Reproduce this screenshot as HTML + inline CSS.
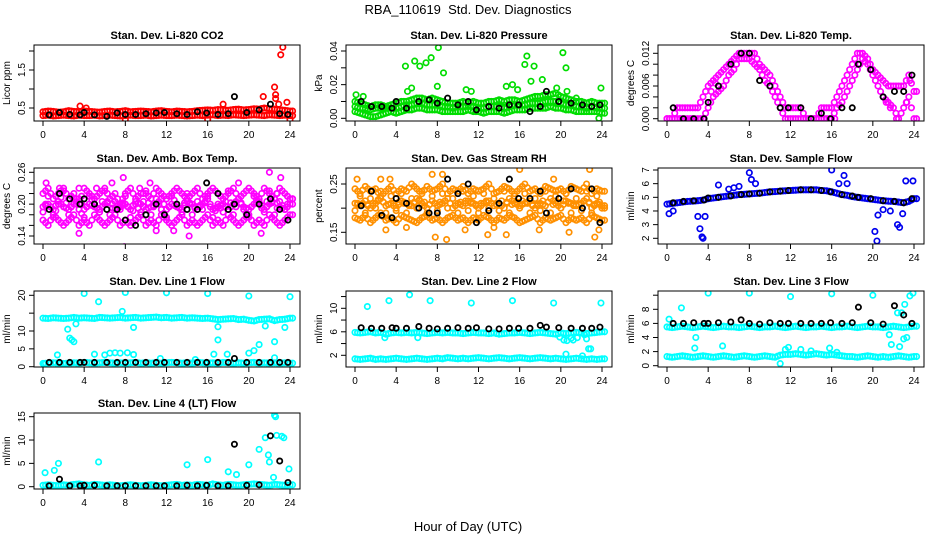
<!DOCTYPE html>
<html><head><meta charset="utf-8"><style>
html,body{margin:0;padding:0;background:#fff}
svg{display:block}
text{font-family:"Liberation Sans",sans-serif}
</style></head><body>
<svg id="chart" width="936" height="540" viewBox="0 0 936 540" xmlns="http://www.w3.org/2000/svg">
<rect width="936" height="540" fill="#fff"/>
<text x="468" y="14" text-anchor="middle" font-size="13" xml:space="preserve">RBA_110619&#160; Std. Dev. Diagnostics</text>
<text x="468" y="531" text-anchor="middle" font-size="13">Hour of Day (UTC)</text>
<defs id="defs"></defs>
</svg>
<script>
// shared categories
const xTicks = [0,4,8,12,16,20,24];
const blackHours = [0.6,1.6,2.6,3.6,4.0,5.0,6.2,7.2,8.0,9.0,10.0,11.0,11.8,13.0,14.0,15.0,15.9,17.0,18.0,18.6,19.8,21.0,22.1,23.0,23.8];

// CO2
const co2BandA = [0.40,0.42,0.41,0.39,0.40,0.43,0.41,0.40,0.42,0.41,0.40,0.39,0.41,0.42,0.40,0.41,0.43,0.40,0.41,0.42,0.41,0.40,0.42,0.43,0.41,0.40,0.42,0.41,0.40,0.41,0.43,0.44,0.45,0.44,0.46,0.45,0.44,0.46,0.47,0.45,0.46,0.48,0.47,0.50,0.48,0.47,0.45,0.44,0.42];
const co2BandB = [0.30,0.31,0.29,0.30,0.31,0.30,0.29,0.31,0.30,0.30,0.31,0.29,0.30,0.31,0.30,0.29,0.30,0.31,0.30,0.30,0.31,0.29,0.30,0.31,0.30,0.30,0.31,0.30,0.29,0.30,0.31,0.30,0.31,0.32,0.30,0.31,0.30,0.32,0.31,0.30,0.31,0.32,0.31,0.30,0.32,0.31,0.30,0.31,0.30];
const co2OutX = [3.6,4.2,17.5,21.4,22.5,22.6,22.6,23.1,23.3,23.7,22.9,16,8,24];
const co2OutY = [0.55,0.5,0.6,0.8,1.05,0.85,0.75,1.9,2.1,0.65,0.6,0.2,0.2,0.2];
const co2Black = [0.32,0.38,0.33,0.32,0.38,0.32,0.28,0.37,0.33,0.33,0.35,0.37,0.38,0.35,0.33,0.40,0.37,0.33,0.35,0.80,0.38,0.45,0.60,0.35,0.33];

// Pressure
const prsBandA = [0.010,0.009,0.008,0.007,0.008,0.008,0.007,0.008,0.009,0.010,0.010,0.011,0.012,0.012,0.011,0.012,0.011,0.010,0.009,0.009,0.009,0.010,0.009,0.010,0.009,0.009,0.010,0.010,0.011,0.010,0.011,0.011,0.010,0.011,0.012,0.013,0.013,0.014,0.014,0.015,0.013,0.012,0.011,0.010,0.010,0.009,0.010,0.009,0.009];
const prsBandB = [0.004,0.003,0.002,0.001,0.001,0.002,0.003,0.004,0.003,0.004,0.005,0.005,0.006,0.006,0.005,0.005,0.005,0.004,0.004,0.004,0.004,0.004,0.005,0.004,0.004,0.003,0.004,0.004,0.004,0.003,0.004,0.005,0.005,0.005,0.006,0.006,0.006,0.006,0.007,0.006,0.006,0.005,0.005,0.004,0.004,0.004,0.004,0.004,0.003];
const prsBandC = [0.007,0.006,0.006,0.005,0.006,0.006,0.006,0.006,0.006,0.007,0.008,0.008,0.009,0.009,0.008,0.008,0.008,0.007,0.007,0.006,0.007,0.007,0.007,0.007,0.006,0.006,0.007,0.007,0.007,0.006,0.007,0.008,0.008,0.008,0.009,0.009,0.009,0.010,0.010,0.010,0.009,0.008,0.008,0.007,0.007,0.006,0.007,0.006,0.006];
const prsOutX = [0.1,0.8,4.9,5.1,5.5,5.8,6.3,6.9,7.4,8.1,8.0,8.6,10.8,11.3,14.7,15.3,15.8,16.5,16.7,17.4,17.1,18.2,19.6,20.2,20.5,20.6,21.5,23.9,23.7];
const prsOutY = [0.014,0.013,0.031,0.016,0.018,0.034,0.031,0.033,0.036,0.042,0.019,0.027,0.017,0.016,0.019,0.020,0.017,0.032,0.037,0.031,0.022,0.023,0.018,0.039,0.030,0.016,0.012,0.018,0.000];
const prsBlack = [0.010,0.007,0.007,0.006,0.010,0.006,0.010,0.011,0.009,0.012,0.008,0.010,0.005,0.007,0.006,0.008,0.008,0.004,0.007,0.016,0.010,0.009,0.008,0.007,0.008];

// Li-820 Temp
const tmpBandA = [0,0,0.002,0.002,0.002,0.002,0.002,0.004,0.006,0.007,0.008,0.009,0.010,0.011,0.012,0.012,0.012,0.012,0.010,0.009,0.008,0.006,0.004,0.002,0.002,0.002,0.002,0,0,0,0.002,0.002,0.002,0.004,0.006,0.008,0.010,0.012,0.012,0.011,0.009,0.008,0.007,0.006,0.006,0.006,0.006,0.008,0.005];
const tmpBandB = [0,0,0,0,0,0,0,0,0.002,0.004,0.005,0.006,0.008,0.009,0.011,0.011,0.011,0.010,0.009,0.007,0.006,0.004,0.002,0,0,0,0,0,0,0,0,0,0,0.002,0.003,0.005,0.007,0.009,0.011,0.010,0.008,0.006,0.004,0.003,0.002,0,0.002,0.004,0];
const tmpOutX = [1.3,2.4,3.5,4.3,4.7,15.9,16.3,21.3,21.7,22.3,23.3,23.6];
const tmpOutY = [0,0,0,0.005,0.0065,0,0,0.003,0.002,0,0.003,0.007];
const tmpBlack = [0.002,0,0,0,0.003,0.006,0.010,0.012,0.012,0.007,0.006,0.002,0.002,0.002,0,0.001,0,0.002,0.002,0.010,0.009,0.004,0.005,0.005,0.008];

// Amb Box Temp
const ambBandA = [0.22,0.23,0.21,0.22,0.23,0.21,0.22,0.20,0.23,0.22,0.21,0.22,0.23,0.21,0.22,0.20,0.22,0.23,0.21,0.22,0.22,0.21,0.23,0.22,0.21,0.22,0.23,0.22,0.21,0.22,0.23,0.21,0.22,0.23,0.22,0.21,0.22,0.23,0.21,0.22,0.23,0.22,0.21,0.23,0.22,0.21,0.23,0.22,0.21];
const ambBandB = [0.17,0.16,0.18,0.17,0.16,0.17,0.18,0.16,0.17,0.16,0.18,0.17,0.16,0.17,0.18,0.16,0.17,0.16,0.17,0.18,0.16,0.17,0.16,0.18,0.17,0.16,0.17,0.18,0.16,0.17,0.16,0.17,0.18,0.16,0.17,0.16,0.18,0.17,0.16,0.17,0.18,0.16,0.17,0.16,0.18,0.17,0.16,0.17,0.18];
const ambBandC = [0.195,0.20,0.19,0.205,0.195,0.19,0.20,0.21,0.19,0.20,0.195,0.19,0.20,0.21,0.19,0.195,0.20,0.19,0.205,0.20,0.19,0.195,0.20,0.21,0.19,0.20,0.195,0.19,0.205,0.20,0.19,0.20,0.21,0.19,0.195,0.20,0.19,0.20,0.21,0.195,0.19,0.20,0.205,0.19,0.20,0.21,0.195,0.19,0.20];
const ambBandD = [0.185,0.215,0.175,0.20,0.225,0.18,0.21,0.19,0.175,0.215,0.20,0.185,0.225,0.18,0.205,0.19,0.215,0.175,0.20,0.185,0.225,0.18,0.21,0.19,0.175,0.215,0.20,0.185,0.22,0.18,0.205,0.19,0.215,0.175,0.20,0.185,0.225,0.18,0.21,0.19,0.175,0.215,0.20,0.185,0.225,0.18,0.205,0.19,0.21];
const ambOutX = [0.3,1.6,3.5,5.2,6.7,7.8,9.4,10.4,12.7,3.5,7.9,14.2,19,22,23.1,22.7,21.2,11];
const ambOutY = [0.24,0.23,0.23,0.23,0.24,0.25,0.23,0.24,0.15,0.145,0.12,0.14,0.24,0.26,0.25,0.22,0.145,0.15];
const ambBlack = [0.19,0.22,0.21,0.20,0.21,0.20,0.19,0.19,0.17,0.16,0.18,0.20,0.18,0.20,0.19,0.19,0.24,0.22,0.19,0.20,0.18,0.20,0.21,0.19,0.17];

// Gas stream RH
const rhBandA = [0.24,0.23,0.245,0.235,0.24,0.225,0.235,0.245,0.23,0.24,0.235,0.25,0.24,0.23,0.245,0.235,0.24,0.25,0.23,0.24,0.235,0.245,0.23,0.24,0.235,0.24,0.25,0.23,0.235,0.245,0.24,0.23,0.24,0.25,0.235,0.24,0.23,0.245,0.24,0.235,0.24,0.23,0.245,0.24,0.235,0.25,0.23,0.24,0.235];
const rhBandB = [0.18,0.175,0.185,0.17,0.18,0.19,0.175,0.18,0.17,0.185,0.18,0.175,0.17,0.18,0.185,0.175,0.18,0.17,0.18,0.185,0.175,0.18,0.17,0.18,0.175,0.185,0.18,0.17,0.18,0.175,0.185,0.18,0.17,0.175,0.18,0.185,0.17,0.18,0.175,0.18,0.185,0.17,0.18,0.175,0.18,0.17,0.185,0.18,0.175];
const rhBandC = [0.21,0.205,0.215,0.2,0.21,0.22,0.205,0.21,0.2,0.215,0.21,0.205,0.22,0.21,0.2,0.215,0.205,0.21,0.22,0.2,0.21,0.205,0.215,0.21,0.2,0.21,0.215,0.205,0.21,0.2,0.22,0.21,0.205,0.21,0.215,0.2,0.21,0.205,0.22,0.21,0.2,0.215,0.21,0.205,0.21,0.22,0.2,0.21,0.205];
const rhBandD = [0.195,0.225,0.19,0.22,0.2,0.235,0.19,0.225,0.195,0.23,0.19,0.22,0.2,0.235,0.19,0.225,0.195,0.23,0.2,0.22,0.19,0.235,0.195,0.225,0.19,0.23,0.2,0.22,0.195,0.235,0.19,0.225,0.2,0.23,0.19,0.22,0.195,0.235,0.19,0.225,0.2,0.23,0.19,0.22,0.195,0.235,0.19,0.225,0.2];
const rhOutX = [0.2,2.5,3.4,3.0,5,7.5,8.5,7.8,8.9,10.7,13.5,14.7,16,17.9,19.3,20.8,22.8,23.3,23.7,12.9];
const rhOutY = [0.26,0.26,0.26,0.155,0.16,0.27,0.27,0.14,0.135,0.155,0.16,0.145,0.28,0.155,0.26,0.15,0.28,0.14,0.155,0.145];
const rhBlack = [0.205,0.235,0.185,0.18,0.22,0.21,0.20,0.19,0.19,0.26,0.23,0.25,0.17,0.195,0.21,0.26,0.22,0.22,0.235,0.19,0.22,0.24,0.20,0.24,0.17];

// Sample flow
const sfBand = [4.5,4.55,4.6,4.65,4.7,4.72,4.75,4.8,4.9,4.95,5.0,5.05,5.1,5.15,5.2,5.22,5.25,5.28,5.3,5.35,5.4,5.42,5.45,5.48,5.5,5.52,5.55,5.55,5.55,5.55,5.5,5.48,5.4,5.3,5.2,5.15,5.05,5.0,4.95,4.9,4.85,4.8,4.75,4.72,4.7,4.65,4.6,4.7,4.9];
const sfOutX = [0.2,0.6,3,3.2,3.4,3.5,3.7,5,6,6.5,7,8,8.2,8.6,16,16.7,17.2,17.5,20.2,20.4,20.5,21,21.7,22.4,22.6,22.9,23.2,23.9];
const sfOutY = [3.8,4.0,3.6,2.7,2.1,2.0,3.6,5.9,5.6,5.7,5.8,6.8,6.3,6.0,7.0,6.0,6.6,6.0,2.5,1.8,3.7,4.1,4.0,3.0,2.8,3.8,6.2,6.2];
const sfBlack = [4.6,4.7,4.75,4.8,4.95,5.0,5.1,5.2,5.25,5.3,5.4,5.45,5.5,5.55,5.55,5.5,5.4,5.2,5.1,5.0,4.9,4.75,4.7,4.6,4.9];

// Line 1
const l1Upper = [13.6,13.5,13.7,13.6,13.5,13.6,13.8,13.6,13.7,13.6,13.5,13.8,13.7,13.6,13.7,13.8,13.6,13.7,13.8,13.6,13.7,13.8,13.9,13.7,13.8,13.6,13.7,13.8,13.6,13.7,13.6,13.5,13.6,13.4,13.2,13.3,13.4,13.5,13.2,13.3,13.0,12.8,13.2,13.3,13.4,12.9,13.2,13.3,13.6];
const l1Lower = [0.9,1.0,1.1,1.0,0.9,1.0,1.1,1.0,1.2,1.1,1.0,1.1,1.2,1.1,1.0,1.1,1.0,1.1,1.2,1.0,1.1,1.0,1.1,1.0,1.1,1.2,1.1,1.0,1.1,1.0,1.2,1.1,1.0,1.1,1.0,1.2,1.1,1.0,1.1,1.0,1.1,1.2,1.0,1.1,1.0,1.1,1.0,1.1,1.0];
const l1OutX = [4,8,12,16,20,24,5.4,7.7,2.4,2.6,2.8,3,3.2,8.8,17,17,21.6,22.5,23.5,1.4,5,6,6.5,7,7.5,8.2,8.8,16.6,17.9,20,20.5,21,22.5,11.4,14.8,0.1];
const l1OutY = [20.5,20.8,20.7,20.5,19.8,19.6,18.2,15.5,10.5,8,7.5,7,12,11,11.2,7.5,11.4,7,11,3.3,3.5,3.3,3.8,3.9,3.8,3.9,3.4,3.5,3.5,3.8,4.5,6.2,2.5,2.3,2,0.8];
const l1Black = [1.2,1.2,1.2,1.2,1.2,1.2,1.2,1.2,1.2,1.2,1.2,1.2,1.2,1.2,1.2,1.2,1.2,1.2,1.2,2.3,1.2,1.2,1.2,1.2,1.2];

// Line 2
const l2Upper = [5.9,5.8,5.9,6.0,5.8,5.9,5.6,5.8,5.9,5.8,5.9,5.8,5.9,5.8,5.7,5.8,5.9,5.8,5.9,5.8,5.8,5.7,5.8,5.9,5.8,5.8,5.7,5.8,5.6,5.7,5.8,5.8,5.9,5.8,5.7,5.8,5.9,5.8,5.7,5.6,5.8,5.7,5.8,5.9,5.8,5.7,5.8,5.9,6.0];
const l2Lower = [1.4,1.3,1.4,1.5,1.3,1.4,1.3,1.4,1.5,1.4,1.3,1.4,1.5,1.4,1.3,1.4,1.5,1.4,1.6,1.5,1.4,1.5,1.4,1.5,1.6,1.5,1.4,1.5,1.6,1.5,1.4,1.5,1.6,1.5,1.4,1.5,1.6,1.5,1.4,1.5,1.4,1.3,1.4,1.5,1.4,1.3,1.4,1.3,1.4];
const l2OutX = [1.2,3.3,5.3,7.3,11.3,15.3,19.3,23.9,2.9,6.1,19.9,20.3,20.6,21,21.2,21.6,20.5,22.7,22.9,22.1,22.3,22.5];
const l2OutY = [10.3,11.3,12.3,11.3,10.9,11.3,10.9,10.9,5.0,5.0,5.1,4.6,4.5,4.9,4.6,5.0,2.2,3.1,3.1,1.9,5.5,4.8];
const l2Black = [6.7,6.6,6.6,6.7,6.6,6.6,6.9,6.6,6.5,6.6,6.7,6.6,6.7,6.5,6.5,6.6,6.6,6.6,7.1,6.8,6.7,6.6,6.6,6.6,6.8];

// Line 3
const l3Upper = [5.5,5.4,5.5,5.6,5.5,5.4,5.5,5.6,5.5,5.4,5.5,5.6,5.5,5.5,5.4,5.5,5.6,5.5,5.4,5.5,5.5,5.6,5.5,5.4,5.5,5.6,5.5,5.4,5.5,5.5,5.6,5.5,5.4,5.5,5.5,5.6,5.5,5.4,5.5,5.6,5.5,5.5,5.4,5.5,5.6,5.5,5.4,5.5,5.6];
const l3Lower = [1.3,1.2,1.3,1.4,1.3,1.2,1.3,1.4,1.3,1.2,1.3,1.4,1.3,1.2,1.3,1.4,1.3,1.2,1.3,1.4,1.3,1.2,1.5,1.6,1.6,1.7,1.6,1.5,1.6,1.7,1.6,1.5,1.6,1.5,1.4,1.3,1.3,1.2,1.3,1.4,1.3,1.2,1.3,1.2,1.3,1.4,1.3,1.2,1.3];
const l3OutX = [0.2,1.4,2.8,2.7,5.4,4,8,12,16,20,23.9,23.6,23.1,22.4,22.8,22.6,23,23.3,21.6,21.8,11.5,11.8,13,14,15.8,16.5,11];
const l3OutY = [6.6,8.2,4.0,2.5,2.8,10.3,10.3,9.8,10.2,10,10.3,9.9,8.7,7.5,7.5,2.7,3.8,4,4.4,3.0,2.3,2.6,2.3,2.1,2.5,1.9,0.3];
const l3Black = [6.0,6.0,6.1,6.0,6.0,6.1,6.2,6.5,6.0,5.9,6.1,6.0,6.0,6.0,6.0,6.0,6.1,6.0,6.1,8.3,6.1,5.9,8.5,7.2,6.0];

// Line 4
const l4Band = [0.3,0.4,0.3,0.2,0.4,0.3,0.5,0.6,0.4,0.3,0.5,0.4,0.3,0.4,0.3,0.2,0.3,0.4,0.3,0.2,0.3,0.4,0.3,0.2,0.3,0.4,0.5,0.3,0.4,0.3,0.5,0.4,0.3,0.6,0.4,0.3,0.5,0.4,0.3,0.4,0.5,0.6,0.5,0.4,0.3,0.5,0.4,0.3,0.4];
const l4OutX = [0.2,1.1,1.5,5.4,14,16,18,18.8,20,21,21.6,21.9,22,22.4,22.5,22.6,22.7,23.2,23.4,23.9];
const l4OutY = [3,3.5,5,5.3,4.7,5.8,3.2,2.6,4.7,8,10.5,6.8,5.3,2,15.3,15,11,10.8,10.5,3.8];
const l4Black = [0.2,1.6,0.2,0.2,0.3,0.3,0.2,0.2,0.2,0.2,0.2,0.2,0.2,0.2,0.3,0.2,0.3,0.2,0.2,9.1,0.3,0.4,10.9,5.5,0.9];

const NS = "http://www.w3.org/2000/svg";
const svg = document.getElementById('chart');
const defs = document.getElementById('defs');
function mk(tag, attrs, parent){const e=document.createElementNS(NS,tag);for(const k in attrs)e.setAttribute(k,attrs[k]);(parent||svg).appendChild(e);return e;}

const colLeft = [34,346,658];
const rowTop = [45,168,291,413];
const boxW = 266, boxH = 76;

const panels = [
 {name:'co2',title:'Stan. Dev. Li-820 CO2',ylab:'Licor ppm',c:0,r:0,v1:0.5,p1:63,v2:1.5,p2:25,ticks:[0.5,1,1.5,2],labels:['0.5','','1.5',''],color:'#ff0000',bands:[co2BandA,co2BandB],ox:co2OutX,oy:co2OutY,black:co2Black},
 {name:'pressure',title:'Stan. Dev. Li-820 Pressure',ylab:'kPa',c:1,r:0,v1:0,p1:73.3,v2:0.04,p2:6,ticks:[0,0.01,0.02,0.03,0.04],labels:['0.00','','0.02','','0.04'],color:'#00dd00',bands:[prsBandA,prsBandB,prsBandC],ox:prsOutX,oy:prsOutY,black:prsBlack},
 {name:'li820-temp',title:'Stan. Dev. Li-820 Temp.',ylab:'degrees C',c:2,r:0,v1:0,p1:73.7,v2:0.012,p2:8.3,ticks:[0,0.002,0.004,0.006,0.008,0.010,0.012],labels:['0.000','','','0.006','','','0.012'],color:'#ff00ff',bands:[tmpBandA,tmpBandB],ox:tmpOutX,oy:tmpOutY,black:tmpBlack},
 {name:'amb-box-temp',title:'Stan. Dev. Amb. Box Temp.',ylab:'degrees C',c:0,r:1,v1:0.14,p1:68,v2:0.26,p2:4.3,ticks:[0.14,0.16,0.18,0.20,0.22,0.24,0.26],labels:['0.14','','','0.20','','','0.26'],color:'#ff00ff',bands:[ambBandA,ambBandB,ambBandC,ambBandD],ox:ambOutX,oy:ambOutY,black:ambBlack},
 {name:'gas-stream-rh',title:'Stan. Dev. Gas Stream RH',ylab:'percent',c:1,r:1,v1:0.15,p1:64.3,v2:0.25,p2:16,ticks:[0.15,0.20,0.25],labels:['0.15','','0.25'],color:'#ff9000',bands:[rhBandA,rhBandB,rhBandC,rhBandD],ox:rhOutX,oy:rhOutY,black:rhBlack},
 {name:'sample-flow',title:'Stan. Dev. Sample Flow',ylab:'ml/min',c:2,r:1,v1:2,p1:70.3,v2:7,p2:2,ticks:[2,3,4,5,6,7],labels:['2','3','4','5','6','7'],color:'#0000ee',bands:[sfBand],ox:sfOutX,oy:sfOutY,black:sfBlack},
 {name:'line1-flow',title:'Stan. Dev. Line 1 Flow',ylab:'ml/min',c:0,r:2,v1:0,p1:75.7,v2:20,p2:4.3,ticks:[0,5,10,15,20],labels:['0','5','10','','20'],color:'#00ffff',bands:[l1Upper,l1Lower],ox:l1OutX,oy:l1OutY,black:l1Black},
 {name:'line2-flow',title:'Stan. Dev. Line 2 Flow',ylab:'ml/min',c:1,r:2,v1:2,p1:64.3,v2:10,p2:17.3,ticks:[2,4,6,8,10,12],labels:['2','','6','','10',''],color:'#00ffff',bands:[l2Upper,l2Lower],ox:l2OutX,oy:l2OutY,black:l2Black},
 {name:'line3-flow',title:'Stan. Dev. Line 3 Flow',ylab:'ml/min',c:2,r:2,v1:0,p1:74.7,v2:8,p2:18.3,ticks:[0,2,4,6,8,10],labels:['0','2','4','6','8',''],color:'#00ffff',bands:[l3Upper,l3Lower],ox:l3OutX,oy:l3OutY,black:l3Black},
 {name:'line4-flow',title:'Stan. Dev. Line 4 (LT) Flow',ylab:'ml/min',c:0,r:3,v1:0,p1:73.7,v2:15,p2:3.7,ticks:[0,5,10,15],labels:['0','5','10','15'],color:'#00ffff',bands:[l4Band],ox:l4OutX,oy:l4OutY,black:l4Black}
];

panels.forEach((p,pi)=>{
  const L=colLeft[p.c], T=rowTop[p.r];
  const xs = h => L + 9 + h*(247/24);
  const ys = v => T + p.p1 + (v-p.v1)*(p.p2-p.p1)/(p.v2-p.v1);
  const g = mk('g',{});
  
  
  const cp = mk('clipPath',{id:'clip'+pi},defs);
  mk('rect',{x:L,y:T,width:boxW,height:boxH},cp);
  const t = mk('text',{x:L+boxW/2,y:T-6,'text-anchor':'middle','font-size':'11','font-weight':'bold'},g);
  t.textContent=p.title;
  
  
  const pts = mk('g',{'clip-path':'url(#clip'+pi+')'},g);
  
  
  p.bands.forEach(b=>{
    b.forEach((v,i)=>{
      const c = mk('circle',{cx:xs(i*0.5),cy:ys(v),r:2.7,fill:'none',stroke:p.color,'stroke-width':1.7},pts);
      
      
      const c2 = mk('circle',{cx:xs(i*0.5+0.25),cy:ys(v+(b[i+1]!==undefined?b[i+1]-v:0)/2),r:2.7,fill:'none',stroke:p.color,'stroke-width':1.7},pts);
      
      
    });
  });
  p.ox.forEach((h,i)=>{
    const c = mk('circle',{cx:xs(h),cy:ys(p.oy[i]),r:2.7,fill:'none',stroke:p.color,'stroke-width':1.7},pts);
    
    
  });
  p.black.forEach((v,i)=>{
    const c = mk('circle',{cx:xs(blackHours[i]),cy:ys(v),r:2.6,fill:'none',stroke:'#000','stroke-width':1.8},pts);
    
    
  });
  mk('rect',{x:L,y:T,width:boxW,height:boxH,fill:'none',stroke:'#000','stroke-width':1},g);
  const B=T+boxH;
  mk('line',{x1:xs(0),y1:B,x2:xs(24),y2:B,stroke:'#000'},g);
  xTicks.forEach(h=>{
    mk('line',{x1:xs(h),y1:B,x2:xs(h),y2:B+5,stroke:'#000'},g);
    const tx=mk('text',{x:xs(h),y:B+17,'text-anchor':'middle','font-size':'10'},g);
    tx.textContent=h;
    
    
  });
  const tk=p.ticks;
  mk('line',{x1:L,y1:ys(tk[0]),x2:L,y2:ys(tk[tk.length-1]),stroke:'#000'},g);
  tk.forEach((v,i)=>{
    const y=ys(v);
    if(y<T-2||y>B+2) return;
    mk('line',{x1:L-5,y1:y,x2:L,y2:y,stroke:'#000'},g);
    if(p.labels[i]){
      const ty=mk('text',{x:L-9,y:y,'text-anchor':'middle','font-size':'10',transform:'rotate(-90 '+(L-9)+' '+y+')'},g);
      ty.textContent=p.labels[i];
      
      
    }
  });
  const yl=mk('text',{x:L-24,y:T+boxH/2,'text-anchor':'middle','font-size':'10',transform:'rotate(-90 '+(L-24)+' '+(T+boxH/2)+')'},g);
  yl.textContent=p.ylab;
  
  
});
</script>
</body></html>
